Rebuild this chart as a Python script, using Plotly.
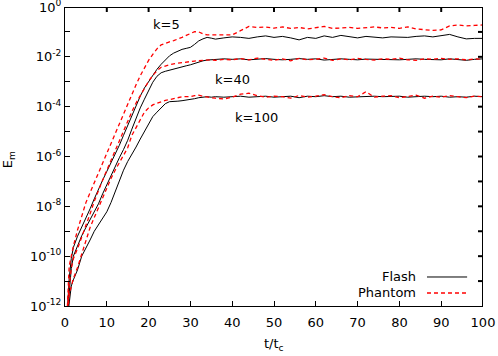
'''
magnetic energy growth, Flash vs Phantom, for three wavenumbers
'''

import numpy as np
import plotly.graph_objects as go

# time in units of t_c
t = [0.5, 1, 1.5, 2, 3, 4, 5, 6, 7, 8, 9, 10, 11, 12, 13, 14, 15, 16, 17, 18,
     19, 20, 21, 22, 23, 24, 25, 26, 27, 28, 29, 30, 31, 32, 33, 34, 35,
     36, 38, 40, 42, 44, 46, 48, 50, 52, 54, 56, 58, 60, 62, 64, 66, 68, 70,
     72, 74, 76, 78, 80, 82, 84, 86, 88, 90, 92, 94, 96, 98, 100]

# log10(E_m)
flash_k5 = [-12.4, -10.9, -10.1, -9.65,
            -9.2, -8.85, -8.5, -8.1, -7.7, -7.3, -6.95, -6.6, -6.25, -5.95,
            -5.55, -5.15, -4.75, -4.35, -3.95, -3.58, -3.25, -3.0, -2.72, -2.5,
            -2.3, -2.12, -1.96, -1.85, -1.76, -1.70, -1.66, -1.62, -1.5, -1.36, -1.28, -1.22, -1.25,
            -1.29, -1.24, -1.2, -1.22, -1.26, -1.2, -1.16, -1.22, -1.18, -1.24,
            -1.32, -1.22, -1.26, -1.16, -1.22, -1.14, -1.2, -1.24, -1.18, -1.2,
            -1.24, -1.2, -1.2, -1.22, -1.18, -1.16, -1.2, -1.14, -1.1, -1.2,
            -1.28, -1.26, -1.26]
flash_k40 = [-12.5, -11.6, -10.5, -10.0,
             -9.55, -9.18, -8.85, -8.55, -8.25, -7.9, -7.5, -7.12, -6.75, -6.4,
             -6.05, -5.72, -5.35, -4.9, -4.45, -4.05, -3.7, -3.35, -3.02, -2.78,
             -2.64, -2.58, -2.53, -2.5, -2.45, -2.4, -2.36, -2.32, -2.26, -2.2, -2.16, -2.13, -2.12,
             -2.12, -2.08, -2.1, -2.08, -2.12, -2.1, -2.07, -2.1, -2.12, -2.1,
             -2.07, -2.1, -2.08, -2.13, -2.1, -2.08, -2.1, -2.12, -2.09, -2.1,
             -2.08, -2.1, -2.12, -2.1, -2.08, -2.1, -2.1, -2.12, -2.08, -2.1,
             -2.14, -2.1, -2.08]
flash_k100 = [-12.6, -11.8, -11.2, -10.95,
              -10.55, -10.0, -9.7, -9.35, -9.0, -8.75, -8.5, -8.22, -7.85, -7.4,
              -6.95, -6.55, -6.2, -5.92, -5.62, -5.3, -4.98, -4.66, -4.4, -4.22,
              -4.05, -3.88, -3.8, -3.8, -3.78, -3.76, -3.74, -3.72, -3.68, -3.64, -3.62, -3.6, -3.62,
              -3.6, -3.62, -3.6, -3.58, -3.62, -3.6, -3.58, -3.62, -3.6, -3.58,
              -3.64, -3.58, -3.6, -3.56, -3.6, -3.58, -3.62, -3.6, -3.6, -3.58,
              -3.6, -3.6, -3.58, -3.62, -3.6, -3.58, -3.6, -3.58, -3.62, -3.6,
              -3.62, -3.58, -3.6]
phantom_k5 = [-12.3, -10.4, -10.0, -9.6,
              -8.95, -8.35, -7.85, -7.45, -7.05, -6.65, -6.25, -5.85, -5.48, -5.1,
              -4.72, -4.32, -3.92, -3.5, -3.12, -2.76, -2.42, -2.14, -1.9, -1.68,
              -1.52, -1.45, -1.4, -1.35, -1.3, -1.22, -1.14, -1.06, -0.99, -1.0, -1.08, -1.12, -1.12,
              -1.14, -1.15, -1.12, -0.95, -0.78, -0.82, -0.8, -0.85, -0.8, -0.86,
              -0.82, -0.88, -0.84, -0.78, -0.86, -0.84, -0.82, -0.86, -0.82, -0.8,
              -0.84, -0.82, -0.86, -0.8, -0.88, -0.9, -0.94, -0.92, -0.76, -0.72,
              -0.76, -0.74, -0.72]
phantom_k40 = [-12.4, -11.2, -10.5, -10.1,
               -9.7, -9.25, -8.78, -8.3, -7.8, -7.35, -6.95, -6.55, -6.15, -5.74,
               -5.35, -4.96, -4.58, -4.2, -3.85, -3.55, -3.25, -2.98, -2.75, -2.56,
               -2.42, -2.36, -2.32, -2.28, -2.25, -2.23, -2.21, -2.19, -2.17, -2.15, -2.14, -2.13, -2.12,
               -2.14, -2.1, -2.12, -2.07, -2.12, -2.05, -2.1, -2.14, -2.08, -2.16,
               -2.06, -2.12, -2.1, -2.05, -2.14, -2.08, -2.12, -2.06, -2.1, -2.13,
               -2.08, -2.1, -2.05, -2.12, -2.14, -2.08, -2.1, -2.06, -2.1, -2.08,
               -2.12, -2.08, -2.1]
phantom_k100 = [-12.5, -11.6, -11.2, -10.9,
                -10.45, -9.9, -9.32, -8.85, -8.45, -8.05, -7.68, -7.22, -6.88, -6.55,
                -6.25, -5.95, -5.65, -5.15, -4.82, -4.5, -4.22, -4.05, -3.93, -3.86,
                -3.8, -3.75, -3.72, -3.68, -3.63, -3.6, -3.6, -3.6, -3.56, -3.54, -3.58, -3.62, -3.64,
                -3.66, -3.69, -3.62, -3.5, -3.46, -3.56, -3.62, -3.58, -3.6, -3.66,
                -3.55, -3.62, -3.58, -3.52, -3.6, -3.64, -3.56, -3.6, -3.4, -3.62,
                -3.58, -3.56, -3.64, -3.6, -3.54, -3.66, -3.58, -3.62, -3.56, -3.6,
                -3.64, -3.58, -3.6]

x_ticks = [0, 10, 20, 30, 40, 50, 60, 70, 80, 90, 100]
y_exponents = [-12, -11, -10, -9, -8, -7, -6, -5, -4, -3, -2, -1, 0]

X_RANGE = [0, 100]
Y_RANGE = [-12, 0]   # log10

FONT = 'DejaVu Sans'
TXT = dict(family=FONT, size=13, color='black')

fig = go.Figure()
for series in [flash_k5, flash_k40, flash_k100]:
    fig.add_trace(go.Scatter(x=t, y=np.power(10.0, series), mode='lines',
                             line=dict(color='black', width=1),
                             showlegend=False, hoverinfo='skip'))
for series in [phantom_k5, phantom_k40, phantom_k100]:
    fig.add_trace(go.Scatter(x=t, y=np.power(10.0, series), mode='lines',
                             line=dict(color='#ff0000', width=1.3, dash='4px,3px'),
                             showlegend=False, hoverinfo='skip'))

# top and right border with inward ticks (gnuplot box), built from the axis ranges
x_lo, x_hi = X_RANGE
y_lo, y_hi = 10.0 ** Y_RANGE[0], 10.0 ** Y_RANGE[1]
tick_dx = 1.2                 # ~5 px along x
tick_dy = 10.0 ** -0.2        # ~5 px along log y
bx = [x_lo, x_hi, x_hi, None]
by = [y_hi, y_hi, y_lo, None]
for xt in x_ticks[1:-1]:
    bx += [xt, xt, None]
    by += [y_hi, y_hi * tick_dy, None]
for e in y_exponents[1:-1]:
    bx += [x_hi, x_hi - tick_dx, None]
    by += [10.0 ** e, 10.0 ** e, None]
fig.add_trace(go.Scatter(x=bx, y=by, mode='lines', line=dict(color='black', width=2),
                         showlegend=False, hoverinfo='skip', connectgaps=False))

y_vals = [10.0 ** e for e in y_exponents]
y_text = ['10<sup>%d</sup>' % e if e % 2 == 0 else '' for e in y_exponents]

axis_style = dict(showline=True, linecolor='black', linewidth=1,
                  ticks='inside', ticklen=5, tickcolor='black', showgrid=False,
                  zeroline=False, tickfont=TXT, ticklabeloverflow='allow',
                  automargin=False, tickmode='array')

fig.update_layout(
    xaxis=dict(range=X_RANGE, tickvals=x_ticks, ticklabelstandoff=4, **axis_style),
    yaxis=dict(type='log', range=Y_RANGE, tickvals=y_vals, ticktext=y_text, **axis_style),
)

labels = [('k=5', 24.2, -0.72), ('k=40', 40, -2.89), ('k=100', 45.8, -4.45)]
annotations = [dict(x=x, y=y, text=s, showarrow=False, font=TXT) for s, x, y in labels]
annotations += [
    dict(x=0.5, y=-0.13, xref='paper', yref='paper', text='t/t<sub>c</sub>',
         xanchor='center', yanchor='middle', showarrow=False, font=TXT),
    dict(x=-0.136, y=0.488, xref='paper', yref='paper', text='E<sub>m</sub>',
         xanchor='center', yanchor='middle', textangle=-90, showarrow=False, font=TXT),
    dict(x=0.8445, y=0.097, xref='paper', yref='paper', text='Flash',
         xanchor='right', yanchor='middle', showarrow=False, font=TXT),
    dict(x=0.8445, y=0.0435, xref='paper', yref='paper', text='Phantom',
         xanchor='right', yanchor='middle', showarrow=False, font=TXT),
]

# legend samples drawn by hand (gnuplot style: text then line)
shapes = [
    dict(type='line', xref='paper', yref='paper', x0=0.866, x1=0.962, y0=0.097, y1=0.097,
         line=dict(color='black', width=1)),
    dict(type='line', xref='paper', yref='paper', x0=0.866, x1=0.962, y0=0.0435, y1=0.0435,
         line=dict(color='#ff0000', width=1.3, dash='4px,3px')),
]

fig.update_layout(template='none', width=498, height=356,
                  margin=dict(l=65, r=15, t=7, b=50, autoexpand=False),
                  paper_bgcolor='white', plot_bgcolor='white',
                  annotations=annotations, shapes=shapes, font=TXT)
fig.write_html("out.html", config={'displayModeBar': False},
               post_script="document.body.style.margin='0';document.body.style.overflow='hidden';")
